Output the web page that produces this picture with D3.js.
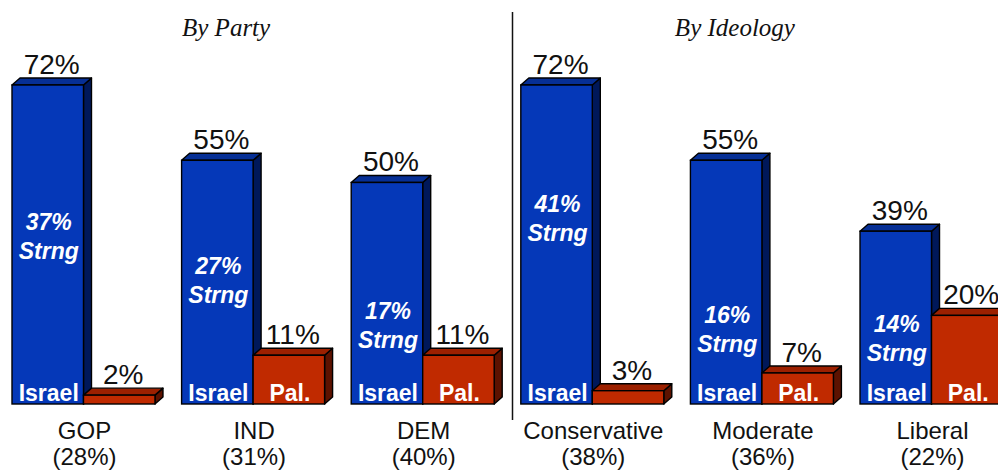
<!DOCTYPE html>
<html>
<head>
<meta charset="utf-8">
<script src="https://cdn.jsdelivr.net/npm/d3@7"></script>
<style>
html,body{margin:0;padding:0;background:#fff;}
svg{display:block;}
</style>
</head>
<body>
<svg id="chart" width="998" height="472"></svg>
<script>
const groups = ["GOP","IND","DEM","Conservative","Moderate","Liberal"];
const groupShares = ["(28%)","(31%)","(40%)","(38%)","(36%)","(22%)"];
const israelValues = [72,55,50,72,55,39];
const palValues = [2,11,11,3,7,20];
const strongValues = [37,27,17,41,16,14];
const seriesNames = ["Israel","Pal."];
const panelTitles = ["By Party","By Ideology"];
const panelGroups = [["GOP","IND","DEM"],["Conservative","Moderate","Liberal"]];

const svg = d3.select("#chart");

const x = d3.scaleBand().domain(groups).range([12, 1003]).paddingInner(0.157).paddingOuter(0);
const xs = d3.scaleBand().domain(seriesNames).range([0, x.bandwidth()]);
const y = d3.scaleLinear().domain([0, 72]).range([404, 85]);

const DX = 8, DY = -7;
const colors = {
  "Israel": {front:"#0538b8", top:"#062f95", side:"#00185a"},
  "Pal.":   {front:"#c02a00", top:"#9c2000", side:"#5c1200"}
};
const SANS = "Liberation Sans, Arial, sans-serif";

const bars = [];
groups.forEach((g,i)=>{
  bars.push({group:g, series:"Israel", value:israelValues[i]});
  bars.push({group:g, series:"Pal.", value:palValues[i]});
});

const gBars = svg.append("g");
bars.forEach(d=>{
  const x0 = x(d.group) + xs(d.series);
  const x1 = x0 + xs.bandwidth();
  const yt = y(d.value), yb = y(0);
  const c = colors[d.series];
  const g = gBars.append("g");
  g.append("path")
    .attr("d", `M${x1},${yt} L${x1+DX},${yt+DY} L${x1+DX},${yb+DY} L${x1},${yb} Z`)
    .attr("fill", c.side).attr("stroke","#000").attr("stroke-width",1.4).attr("stroke-linejoin","round");
  g.append("path")
    .attr("d", `M${x0},${yt} L${x0+DX},${yt+DY} L${x1+DX},${yt+DY} L${x1},${yt} Z`)
    .attr("fill", c.top).attr("stroke","#000").attr("stroke-width",1.4).attr("stroke-linejoin","round");
  g.append("rect")
    .attr("x", x0).attr("y", yt).attr("width", x1-x0).attr("height", yb-yt)
    .attr("fill", c.front).attr("stroke","#000").attr("stroke-width",1.4);
  g.append("text")
    .attr("x", (x0+x1)/2 + DX/2).attr("y", yt - 11)
    .attr("text-anchor","middle")
    .attr("font-family", SANS)
    .attr("font-size", 28)
    .attr("fill","#111")
    .text(d.value + "%");
  if (y(0) - yt > 24) {
    g.append("text")
      .attr("x", (x0+x1)/2 + 1).attr("y", 401)
      .attr("text-anchor","middle")
      .attr("font-family", SANS)
      .attr("font-weight","bold")
      .attr("font-size", 23)
      .attr("fill","#fff")
      .text(d.series);
  }
});

groups.forEach((g,i)=>{
  const cx = x(g) + xs("Israel") + xs.bandwidth()/2 + 1;
  const ys = y(strongValues[i]);
  const t = svg.append("text")
    .attr("text-anchor","middle")
    .attr("font-family", SANS)
    .attr("font-weight","bold").attr("font-style","italic")
    .attr("font-size", 23).attr("fill","#fff");
  t.append("tspan").attr("x", cx).attr("y", ys - 10).text(strongValues[i] + "%");
  t.append("tspan").attr("x", cx).attr("y", ys + 19).text("Strng");
});

groups.forEach((g,i)=>{
  const cx = x(g) + x.bandwidth()/2 + 1;
  const t = svg.append("text")
    .attr("text-anchor","middle")
    .attr("font-family", SANS)
    .attr("font-size", 24).attr("fill","#111");
  t.append("tspan").attr("x", cx).attr("y", 439).text(g);
  t.append("tspan").attr("x", cx).attr("y", 465).text(groupShares[i]);
});

panelTitles.forEach((t,i)=>{
  const mid = panelGroups[i][1];
  svg.append("text").attr("x", x(mid) + x.bandwidth()/2 - 27).attr("y", 36)
    .attr("text-anchor","middle")
    .attr("font-family","Liberation Serif, Times New Roman, serif")
    .attr("font-style","italic")
    .attr("font-size", 25).attr("fill","#111").text(t);
});

const divX = (x("DEM") + x.bandwidth() + DX + x("Conservative")) / 2 + 1;
svg.append("line").attr("x1", divX).attr("x2", divX).attr("y1", 12).attr("y2", 420)
  .attr("stroke","#111").attr("stroke-width",1.5);
</script>
</body>
</html>
